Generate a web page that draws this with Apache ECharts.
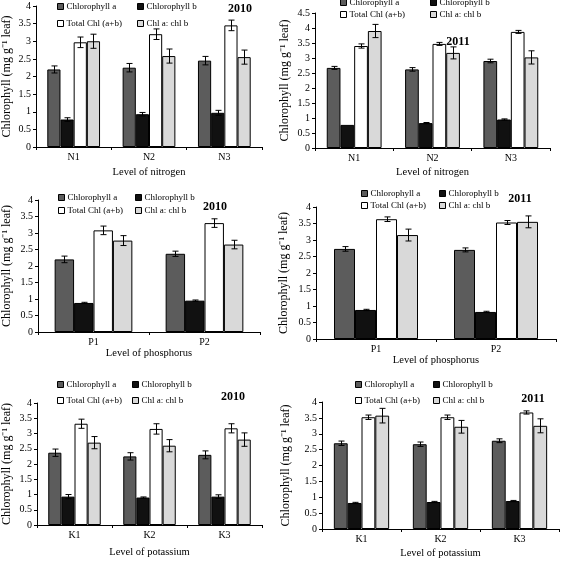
<!DOCTYPE html>
<html><head><meta charset="utf-8">
<script src="https://cdn.jsdelivr.net/npm/echarts@6/dist/echarts.min.js"></script>
<style>html,body{margin:0;padding:0;background:#fff}#c{width:567px;height:562px}</style>
</head><body><div id="c"></div>
<script>
const seriesNames = ['Chlorophyll a', 'Chlorophyll b', 'Total Chl (a+b)', 'Chl a: chl b'];
const catsN = ['N1', 'N2', 'N3'];
const catsP = ['P1', 'P2'];
const catsK = ['K1', 'K2', 'K3'];
const xNames = ['Level of nitrogen', 'Level of phosphorus', 'Level of potassium'];
const years = ['2010', '2011'];

// values: [Chl a, Chl b, Total, ratio] per category
const n2010Values = [[2.2, 2.25, 2.45], [0.78, 0.93, 0.97], [2.97, 3.2, 3.45], [3.0, 2.58, 2.55]];
const n2010Errors = [[0.1, 0.12, 0.12], [0.05, 0.05, 0.07], [0.15, 0.15, 0.15], [0.2, 0.2, 0.2]];
const n2011Values = [[2.67, 2.62, 2.9], [0.77, 0.83, 0.95], [3.4, 3.47, 3.87], [3.9, 3.17, 3.02]];
const n2011Errors = [[0.05, 0.06, 0.06], [0, 0.02, 0.02], [0.07, 0.05, 0.05], [0.22, 0.2, 0.22]];
const p2010Values = [[2.2, 2.37], [0.88, 0.95], [3.08, 3.3], [2.77, 2.65]];
const p2010Errors = [[0.1, 0.08], [0.02, 0.02], [0.13, 0.13], [0.15, 0.13]];
const p2011Values = [[2.73, 2.7], [0.88, 0.82], [3.63, 3.53], [3.15, 3.55]];
const p2011Errors = [[0.07, 0.06], [0.02, 0.02], [0.07, 0.06], [0.18, 0.18]];
const k2010Values = [[2.37, 2.25, 2.3], [0.93, 0.9, 0.93], [3.32, 3.15, 3.17], [2.7, 2.6, 2.8]];
const k2010Errors = [[0.12, 0.12, 0.13], [0.07, 0.02, 0.06], [0.15, 0.17, 0.15], [0.2, 0.2, 0.22]];
const k2011Values = [[2.7, 2.67, 2.78], [0.82, 0.85, 0.88], [3.52, 3.52, 3.67], [3.57, 3.22, 3.25]];
const k2011Errors = [[0.07, 0.07, 0.06], [0.02, 0.02, 0.02], [0.07, 0.07, 0.05], [0.23, 0.2, 0.22]];
const yTicks4 = [0, 4, 0.5];
const yTicks45 = [0, 4.5, 0.5];

const colors = ['#5c5c5c', '#111111', '#ffffff', '#d9d9d9'];
const FONT = 'Liberation Serif';
const CAT_GAP = 0.3;

const panels = [
  {cats: catsN, vals: n2010Values, errs: n2010Errors, xName: xNames[0], year: years[0], yt: yTicks4,
   grid: [32, 6, 230, 141], yGap: 23, xGap: 20, leg: [57, 137, 8, 25], yr: [240, 9]},
  {cats: catsN, vals: n2011Values, errs: n2011Errors, xName: xNames[0], year: years[1], yt: yTicks45,
   grid: [315, 13, 235, 135], yGap: 24, xGap: 19, leg: [340, 430, 4, 16], yr: [458, 42]},
  {cats: catsP, vals: p2010Values, errs: p2010Errors, xName: xNames[1], year: years[0], yt: yTicks4,
   grid: [36, 200, 224, 132], yGap: 25, xGap: 16, leg: [58, 135, 199, 212], yr: [215, 207]},
  {cats: catsP, vals: p2011Values, errs: p2011Errors, xName: xNames[1], year: years[1], yt: yTicks4,
   grid: [316, 207, 240, 132], yGap: 26, xGap: 14, leg: [361, 439, 195, 207], yr: [520, 199]},
  {cats: catsK, vals: k2010Values, errs: k2010Errors, xName: xNames[2], year: years[0], yt: yTicks4,
   grid: [32, 403, 230, 122], yGap: 24, xGap: 22, leg: [57, 132, 386, 402], yr: [233, 397]},
  {cats: catsK, vals: k2011Values, errs: k2011Errors, xName: xNames[2], year: years[1], yt: yTicks4,
   grid: [322, 402, 237, 127], yGap: 30, xGap: 19, leg: [355, 433, 386, 402], yr: [533, 399]}
];

const grid = [], xAxis = [], yAxis = [], series = [], legend = [], graphic = [];
panels.forEach((p, pi) => {
  grid.push({left: p.grid[0], top: p.grid[1], width: p.grid[2], height: p.grid[3], containLabel: false});
  xAxis.push({
    type: 'category', gridIndex: pi, data: p.cats,
    name: p.xName, nameLocation: 'middle', nameGap: p.xGap,
    nameTextStyle: {fontFamily: FONT, fontSize: 10.5, color: '#000'},
    axisLine: {show: true, lineStyle: {color: '#000', width: 1}},
    axisTick: {show: true, length: 3, lineStyle: {color: '#000'}},
    axisLabel: {fontFamily: FONT, fontSize: 10, color: '#000', margin: 5},
    splitLine: {show: false}
  });
  yAxis.push({
    type: 'value', gridIndex: pi, min: p.yt[0], max: p.yt[1], interval: p.yt[2],
    name: 'Chlorophyll (mg g\u207B\u00B9 leaf)', nameLocation: 'middle', nameGap: p.yGap,
    nameTextStyle: {fontFamily: FONT, fontSize: 12, color: '#000'},
    axisLine: {show: true, lineStyle: {color: '#000', width: 1}},
    axisTick: {show: true, length: 3, inside: false, lineStyle: {color: '#000'}},
    axisLabel: {fontFamily: FONT, fontSize: 10, color: '#000', margin: 5},
    splitLine: {show: false}
  });
  seriesNames.forEach((sn, si) => {
    series.push({
      type: 'bar', name: sn, xAxisIndex: pi, yAxisIndex: pi,
      data: p.vals[si], barGap: '0%', barCategoryGap: (CAT_GAP * 100) + '%',
      itemStyle: {color: colors[si], borderColor: '#000', borderWidth: 1},
      silent: true, animation: false
    });
  });
  const ed = [];
  p.errs.forEach((arr, si) => arr.forEach((e, ci) => { ed.push([ci, si, p.vals[si][ci], e]); }));
  series.push({
    type: 'custom', xAxisIndex: pi, yAxisIndex: pi, data: ed, z: 10, silent: true, animation: false,
    encode: {x: 0, y: 2},
    renderItem: function (params, api) {
      const ci = api.value(0), si = api.value(1), v = api.value(2), e = api.value(3);
      if (!e) return null;
      const band = api.size([1, 0])[0];
      const bw = band * (1 - CAT_GAP) / 4;
      const c = api.coord([ci, v]);
      const x = Math.round(c[0] + (si - 1.5) * bw) + 0.5;
      const yt = api.coord([ci, v + e])[1];
      const yb = api.coord([ci, v - e])[1];
      const cap = 3;
      const st = {stroke: '#000', lineWidth: 1};
      return {type: 'group', children: [
        {type: 'line', shape: {x1: x, y1: yt, x2: x, y2: yb}, style: st},
        {type: 'line', shape: {x1: x - cap, y1: yt, x2: x + cap, y2: yt}, style: st},
        {type: 'line', shape: {x1: x - cap, y1: yb, x2: x + cap, y2: yb}, style: st}
      ]};
    }
  });
  const lx = [p.leg[0], p.leg[1], p.leg[0], p.leg[1]];
  const ly = [p.leg[2], p.leg[2], p.leg[3], p.leg[3]];
  seriesNames.forEach((sn, si) => {
    legend.push({
      data: [sn], left: lx[si], top: ly[si] - 6, padding: 0, itemGap: 0,
      icon: 'rect', itemWidth: 6, itemHeight: 6, itemStyle: {borderColor: '#000', borderWidth: 1},
      textStyle: {fontFamily: FONT, fontSize: 9, color: '#000', padding: [0, 0, 0, -2]},
      selectedMode: false
    });
  });
  graphic.push({
    type: 'text', x: p.yr[0], y: p.yr[1],
    style: {text: p.year, fontFamily: FONT, fontSize: 12, fontWeight: 'bold', fill: '#000',
            textAlign: 'center', textVerticalAlign: 'middle'}
  });
});

const chart = echarts.init(document.getElementById('c'), null, {renderer: 'canvas'});
chart.setOption({animation: false, backgroundColor: '#fff', grid, xAxis, yAxis, series, legend, graphic});
</script>
</body></html>
